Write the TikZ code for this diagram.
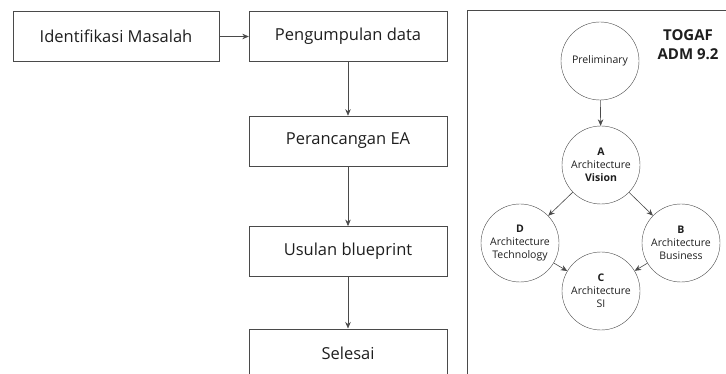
\documentclass[tikz,border=0pt]{standalone}
\usepackage{fontspec}
\setmainfont{Open Sans}
\usetikzlibrary{arrows.meta,positioning}
\definecolor{linegrey}{HTML}{4A4A4A}
\definecolor{textgrey}{HTML}{1E1E1E}

\begin{document}
\begin{tikzpicture}[x=1pt,y=1pt,->,>={Stealth[length=6.5pt,width=5.5pt]},
                    semithick,draw=linegrey,text=textgrey]
  \tikzstyle{stepbox}=[draw=linegrey,thin,minimum width=198pt,minimum height=50pt,
                       inner sep=0pt,font=\fontsize{16.5}{19}\selectfont]
  \tikzstyle{phase}=[circle,draw=linegrey,thin,minimum size=78pt,inner sep=0pt,
                     align=center,font=\fontsize{10.5}{13}\selectfont]

  \useasboundingbox (0,0) rectangle (726,-374);
  \clip (0,0) rectangle (726,-374);

  % alur penelitian
  \node[stepbox,minimum width=206pt] (idm) at (116,-36.5) {Identifikasi Masalah};
  \node[stepbox]         (pgd) at (348,-36.5)     {Pengumpulan data};
  \node[stepbox]         (pea) [below=54pt of pgd] {Perancangan EA};
  \node[stepbox]         (ubp) [below=60pt of pea] {Usulan blueprint};
  \node[stepbox]         (sls) [below=52pt of ubp] {Selesai};

  \path (idm) edge (pgd)
        (pgd) edge (pea)
        (pea) edge (ubp)
        (ubp) edge (sls);

  % panel TOGAF
  \draw[-,thin,linegrey] (467,-10) rectangle (760,-400);
  \node[font=\bfseries\fontsize{15}{19}\selectfont,align=center] (ttl) at (688,-45)
       {TOGAF\\ADM 9.2};

  \node[phase] (pre) at (600,-61)  {Preliminary};
  \node[phase] (vis) at (601,-165) {\textbf{A}\\Architecture\\\textbf{Vision}};
  \node[phase] (tec) at (520,-243) {\textbf{D}\\Architecture\\Technology};
  \node[phase] (bus) at (681,-243) {\textbf{B}\\Architecture\\Business};
  \node[phase] (sis) at (601,-291) {\textbf{C}\\Architecture\\SI};

  \path (pre) edge (vis)
        (vis) edge (tec)
              edge (bus)
        (tec) edge (sis)
        (bus) edge (sis);
\end{tikzpicture}
\end{document}
